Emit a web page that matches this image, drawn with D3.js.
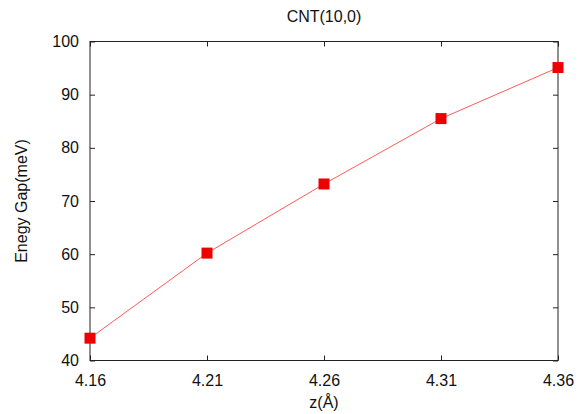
<!DOCTYPE html>
<html>
<head>
<meta charset="utf-8">
<script src="https://cdn.jsdelivr.net/npm/d3@7"></script>
<style>
  html, body { margin: 0; padding: 0; background: #fff; }
  svg text { font-family: "Liberation Sans", Arial, sans-serif; fill: #111; }
</style>
</head>
<body>
<svg id="chart" width="586" height="414"></svg>
<script>
const zValues = [4.16, 4.21, 4.26, 4.31, 4.36];
const gapValues = [44.2, 60.2, 73.2, 85.5, 95.1];
const xTicks = [4.16, 4.21, 4.26, 4.31, 4.36];
const yTicks = [40, 50, 60, 70, 80, 90, 100];

const width = 586;
const height = 414;
const margin = { top: 41.5, right: 28, bottom: 53.5, left: 90 };

const svg = d3.select("#chart");

const x = d3.scaleLinear().domain([4.16, 4.36]).range([margin.left, width - margin.right]);
const y = d3.scaleLinear().domain([40, 100]).range([height - margin.bottom, margin.top]);

const tickLen = 5;

// bottom axis
const gx = svg.append("g")
  .attr("transform", `translate(0,${height - margin.bottom})`)
  .call(d3.axisBottom(x).tickValues(xTicks).tickFormat(d3.format(".2f")).tickSizeInner(-tickLen).tickSizeOuter(0).tickPadding(14));

// top mirror ticks
const gxTop = svg.append("g")
  .attr("transform", `translate(0,${margin.top})`)
  .call(d3.axisTop(x).tickValues(xTicks).tickFormat("").tickSizeInner(-tickLen).tickSizeOuter(0));

// left axis
const gy = svg.append("g")
  .attr("transform", `translate(${margin.left},0)`)
  .call(d3.axisLeft(y).tickValues(yTicks).tickSizeInner(-tickLen).tickSizeOuter(0).tickPadding(11));

// right mirror ticks
const gyRight = svg.append("g")
  .attr("transform", `translate(${width - margin.right},0)`)
  .call(d3.axisRight(y).tickValues(yTicks).tickFormat("").tickSizeInner(-tickLen).tickSizeOuter(0));

[gx, gxTop, gy, gyRight].forEach(g => {
  g.select(".domain").remove();
  g.selectAll(".tick line").attr("stroke", "#222").attr("stroke-width", 1);
  g.selectAll(".tick text").attr("font-size", 16).attr("fill", "#111");
});

// frame
svg.append("rect")
  .attr("x", margin.left)
  .attr("y", margin.top)
  .attr("width", width - margin.right - margin.left)
  .attr("height", height - margin.bottom - margin.top)
  .attr("fill", "none")
  .attr("stroke", "#222")
  .attr("stroke-width", 1);

// line
const pts = zValues.map((z, i) => [z, gapValues[i]]);
svg.append("path")
  .datum(pts)
  .attr("fill", "none")
  .attr("stroke", "#ff5a5a")
  .attr("stroke-width", 1)
  .attr("d", d3.line().x(d => x(d[0])).y(d => y(d[1])));

// markers
const ms = 11;
svg.selectAll(".pt")
  .data(pts)
  .join("rect")
  .attr("class", "pt")
  .attr("x", d => x(d[0]) - ms / 2)
  .attr("y", d => y(d[1]) - ms / 2)
  .attr("width", ms)
  .attr("height", ms)
  .attr("fill", "#ee0000");

// title
svg.append("text")
  .attr("x", (margin.left + width - margin.right) / 2)
  .attr("y", 22)
  .attr("text-anchor", "middle")
  .attr("font-size", 16)
  .text("CNT(10,0)");

// x label
svg.append("text")
  .attr("x", (margin.left + width - margin.right) / 2)
  .attr("y", 408)
  .attr("text-anchor", "middle")
  .attr("font-size", 16)
  .text("z(Å)");

// y label
svg.append("text")
  .attr("transform", `translate(27,${(margin.top + height - margin.bottom) / 2}) rotate(-90)`)
  .attr("text-anchor", "middle")
  .attr("font-size", 16)
  .text("Enegy Gap(meV)");
</script>
</body>
</html>
